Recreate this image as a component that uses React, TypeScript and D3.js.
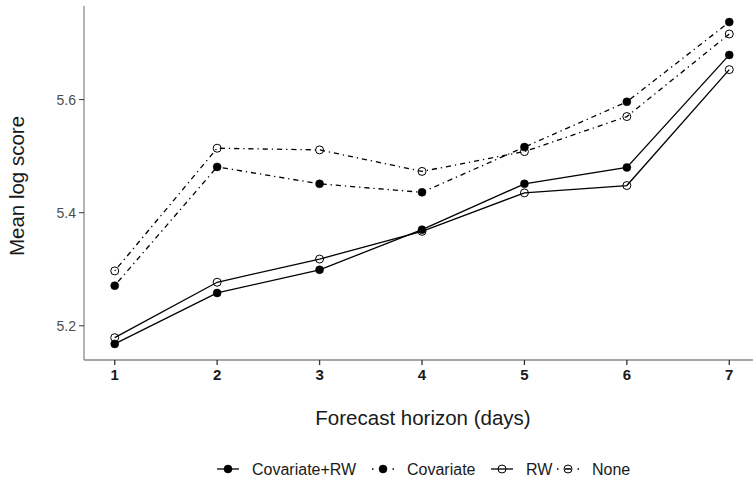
import React from "react";
import * as d3 from "d3";

const horizons = [1, 2, 3, 4, 5, 6, 7];
const covariateRW = [5.168, 5.258, 5.299, 5.37, 5.451, 5.48, 5.679];
const covariate = [5.271, 5.481, 5.451, 5.436, 5.516, 5.596, 5.737];
const rw = [5.179, 5.277, 5.318, 5.367, 5.435, 5.448, 5.653];
const none = [5.297, 5.514, 5.511, 5.473, 5.508, 5.57, 5.716];
const yTicks = [5.2, 5.4, 5.6];
const seriesNames = ["Covariate+RW", "Covariate", "RW", "None"];

const width = 753;
const height = 478;
const font = "'Liberation Sans', Arial, Helvetica, sans-serif";
const dotdash = "1.3 3.9 5.2 3.9";

function App() {
  const x = d3.scaleLinear().domain([0.7, 7.3]).range([84, 760]);
  const y = d3.scaleLinear().domain([5.1395, 5.7655]).range([360, 6]);

  const series = [
    { name: seriesNames[0], values: covariateRW, filled: true, dashed: false },
    { name: seriesNames[1], values: covariate, filled: true, dashed: true },
    { name: seriesNames[2], values: rw, filled: false, dashed: false },
    { name: seriesNames[3], values: none, filled: false, dashed: true },
  ];

  const line = d3
    .line<number>()
    .x((_, i) => x(horizons[i]))
    .y((d) => y(d));

  // legend key centres
  const legendX = [228, 383, 502, 568];
  const legendY = 469;

  return (
    <svg
      width={width}
      height={height}
      style={{ position: "absolute", left: 0, top: 0, background: "#fff" }}
      fontFamily={font}
    >
      {/* axes */}
      <line x1={84} x2={84} y1={6} y2={360} stroke="#8a8a8a" strokeWidth={1.3} />
      <line x1={84} x2={753} y1={360} y2={360} stroke="#8a8a8a" strokeWidth={1.3} />
      {yTicks.map((t) => (
        <g key={t}>
          <line x1={79} x2={84} y1={y(t)} y2={y(t)} stroke="#333" strokeWidth={1} />
          <text x={76} y={y(t)} dy="0.36em" textAnchor="end" fontSize={14} fill="#4d4d4d">
            {t.toFixed(1)}
          </text>
        </g>
      ))}
      {horizons.map((h) => (
        <g key={h}>
          <line x1={x(h)} x2={x(h)} y1={360} y2={365} stroke="#333" strokeWidth={1.3} />
          <text x={x(h)} y={380} textAnchor="middle" fontSize={15} fontWeight="bold" fill="#1a1a1a">
            {h}
          </text>
        </g>
      ))}
      <text
        transform="translate(23.5,186) rotate(-90)"
        textAnchor="middle"
        fontSize={20.5}
        fill="#1a1a1a"
      >
        Mean log score
      </text>
      <text x={423} y={425} textAnchor="middle" fontSize={20.5} fill="#1a1a1a">
        Forecast horizon (days)
      </text>

      {/* lines */}
      {series.map((s) => (
        <path
          key={s.name}
          d={line(s.values) || ""}
          fill="none"
          stroke="#000"
          strokeWidth={1.3}
          strokeDasharray={s.dashed ? dotdash : undefined}
        />
      ))}
      {/* points */}
      {series.map((s) =>
        s.values.map((v, i) => (
          <circle
            key={s.name + i}
            cx={x(horizons[i])}
            cy={y(v)}
            r={4}
            fill={s.filled ? "#000" : "none"}
            stroke="#000"
            strokeWidth={s.filled ? 0.5 : 1}
          />
        ))
      )}

      {/* legend */}
      {series.map((s, i) => (
        <g key={s.name} transform={`translate(${legendX[i]},${legendY})`}>
          <line
            x1={-11}
            x2={11}
            y1={0}
            y2={0}
            stroke="#000"
            strokeWidth={1.3}
            strokeDasharray={s.dashed ? "1.5 6.5 6 6.5 1.5" : undefined}
          />
          <circle
            r={4}
            fill={s.filled ? "#000" : "#fff"}
            fillOpacity={s.filled ? 1 : 0}
            stroke="#000"
            strokeWidth={s.filled ? 0.5 : 1}
          />
          <text x={24} y={5.5} fontSize={16} fill="#1a1a1a">
            {s.name}
          </text>
        </g>
      ))}
    </svg>
  );
}

export default App;
